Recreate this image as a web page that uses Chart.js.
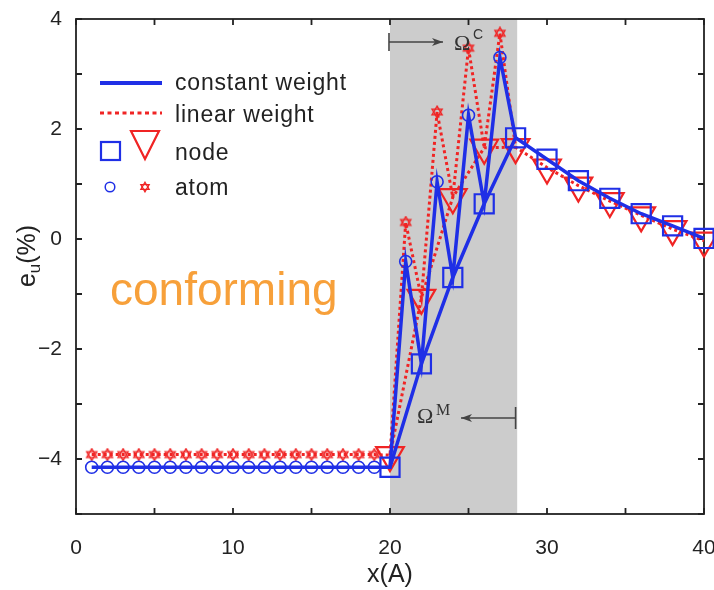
<!DOCTYPE html>
<html><head><meta charset="utf-8">
<script src="https://cdn.jsdelivr.net/npm/chart.js@4.4.1/dist/chart.umd.min.js"></script>
<style>html,body{margin:0;padding:0;background:#fff;}canvas{display:block;}</style>
</head><body>
<canvas id="c" width="714" height="590"></canvas>
<script>
// ---------- data ----------
const atomXLeft = [1,2,3,4,5,6,7,8,9,10,11,12,13,14,15,16,17,18,19];
const constAtomLeft = [-4.15,-4.15,-4.15,-4.15,-4.15,-4.15,-4.15,-4.15,-4.15,-4.15,-4.15,-4.15,-4.15,-4.15,-4.15,-4.15,-4.15,-4.15,-4.15];
const linearAtomLeft = [-3.92,-3.92,-3.92,-3.92,-3.92,-3.92,-3.92,-3.92,-3.92,-3.92,-3.92,-3.92,-3.92,-3.92,-3.92,-3.92,-3.92,-3.92,-3.92];
const atomXHandshake = [21, 23, 25, 27];
const constAtomHandshake = [-0.41, 1.04, 2.25, 3.30];
const linearAtomHandshake = [0.30, 2.31, 3.47, 3.74];
const nodeX = [20, 22, 24, 26, 28, 30, 32, 34, 36, 38, 40];
const constNode = [-4.15, -2.27, -0.70, 0.64, 1.84, 1.45, 1.06, 0.74, 0.46, 0.24, 0.01];
const linearNode = [-3.93, -1.07, 0.76, 1.66, 1.67, 1.30, 0.97, 0.69, 0.43, 0.18, -0.03];
const handshakeRegion = [20, 28.1];
const xTickLabelValues = [0, 10, 20, 30, 40];
const yTickLabelValues = [-4, -2, 0, 2, 4];
const legendLabels = ['constant weight', 'linear weight', 'node', 'atom'];
const regionText = 'conforming';

const BLUE = '#1f2fe6', RED = '#f02424', INK = '#222222';

function pts(xs, ys) { return xs.map((x, i) => ({x: x, y: ys[i]})); }
function fullPath(ax1, ay1, ax2, ay2, nx, ny) {
  const all = pts(ax1, ay1).concat(pts(ax2, ay2), pts(nx, ny));
  all.sort((a, b) => a.x - b.x);
  return all;
}
function handshakeNodes(ys) { return pts(nodeX, ys).filter(p => p.x <= handshakeRegion[1]); }
function fmt(v) { return v < 0 ? '\u2212' + Math.abs(v) : String(v); }

function makeStar(size, lw) {
  const c = document.createElement('canvas');
  c.width = size; c.height = size;
  const g = c.getContext('2d');
  g.strokeStyle = RED; g.lineWidth = lw;
  const cx = size / 2, cy = size / 2, r = size / 2 - 1.2;
  for (let k = 0; k < 2; k++) {
    g.beginPath();
    for (let i = 0; i < 3; i++) {
      const a = -Math.PI / 2 + k * Math.PI + i * 2 * Math.PI / 3;
      const px = cx + r * Math.cos(a), py = cy + r * Math.sin(a);
      if (i === 0) g.moveTo(px, py); else g.lineTo(px, py);
    }
    g.closePath(); g.stroke();
  }
  return c;
}
const starImg = makeStar(14, 1.4);
const starImgSmall = makeStar(12, 1.3);

const lineBase = {showLine: true, pointRadius: 0, fill: false, clip: false, tension: 0};
const pointBase = {showLine: false, clip: false, backgroundColor: 'rgba(0,0,0,0)', pointBackgroundColor: 'rgba(0,0,0,0)'};

const datasets = [
  Object.assign({label: 'constant path', data: fullPath(atomXLeft, constAtomLeft, atomXHandshake, constAtomHandshake, nodeX, constNode),
    borderColor: BLUE, borderWidth: 3.5}, lineBase),
  Object.assign({label: 'constant nodes line', data: handshakeNodes(constNode), borderColor: BLUE, borderWidth: 3.5}, lineBase),
  Object.assign({label: 'constant atoms', data: pts(atomXLeft, constAtomLeft).concat(pts(atomXHandshake, constAtomHandshake)),
    borderColor: BLUE, pointBorderColor: BLUE, pointStyle: 'circle', pointRadius: 6, pointBorderWidth: 1.6}, pointBase),
  Object.assign({label: 'constant nodes', data: pts(nodeX, constNode),
    borderColor: BLUE, pointBorderColor: BLUE, pointStyle: 'rect', pointRadius: 13.5, pointBorderWidth: 2.2}, pointBase),
  Object.assign({label: 'linear path', data: fullPath(atomXLeft, linearAtomLeft, atomXHandshake, linearAtomHandshake, nodeX, linearNode),
    borderColor: RED, borderWidth: 3, borderDash: [3, 3]}, lineBase),
  Object.assign({label: 'linear nodes line', data: handshakeNodes(linearNode), borderColor: RED, borderWidth: 3, borderDash: [3, 3]}, lineBase),
  Object.assign({label: 'linear atoms', data: pts(atomXLeft, linearAtomLeft).concat(pts(atomXHandshake, linearAtomHandshake)),
    borderColor: RED, pointBorderColor: RED, pointStyle: starImg, pointRadius: 7}, pointBase),
  Object.assign({label: 'linear nodes', data: pts(nodeX, linearNode),
    borderColor: RED, pointBorderColor: RED, pointStyle: 'triangle', pointRotation: 180, pointRadius: 16, pointBorderWidth: 2.2}, pointBase)
];

const framePlugin = {
  id: 'frame',
  beforeDatasetsDraw(chart) {
    const {ctx, chartArea: a, scales: {x, y}} = chart;
    ctx.save();
    const x0 = x.getPixelForValue(handshakeRegion[0]), x1 = x.getPixelForValue(handshakeRegion[1]);
    ctx.fillStyle = '#cccccc';
    ctx.fillRect(x0, a.top, x1 - x0, a.bottom - a.top);
    ctx.strokeStyle = INK; ctx.lineWidth = 1.8;
    ctx.strokeRect(a.left, a.top, a.right - a.left, a.bottom - a.top);
    ctx.beginPath();
    x.ticks.forEach(t => {
      const p = x.getPixelForValue(t.value);
      ctx.moveTo(p, a.bottom); ctx.lineTo(p, a.bottom - 6);
      ctx.moveTo(p, a.top); ctx.lineTo(p, a.top + 6);
    });
    y.ticks.forEach(t => {
      const p = y.getPixelForValue(t.value);
      ctx.moveTo(a.left, p); ctx.lineTo(a.left + 6, p);
      ctx.moveTo(a.right, p); ctx.lineTo(a.right - 6, p);
    });
    ctx.stroke();
    ctx.restore();
  }
};

function arrow(ctx, xBar, xTip, yy, barHalf) {
  ctx.beginPath();
  ctx.moveTo(xBar, yy - barHalf); ctx.lineTo(xBar, yy + barHalf);
  ctx.moveTo(xBar, yy); ctx.lineTo(xTip, yy);
  ctx.stroke();
  const dir = xTip > xBar ? 1 : -1;
  ctx.beginPath();
  ctx.moveTo(xTip, yy);
  ctx.lineTo(xTip - dir * 11, yy - 4);
  ctx.lineTo(xTip - dir * 8, yy);
  ctx.lineTo(xTip - dir * 11, yy + 4);
  ctx.closePath(); ctx.fill();
}

const annotPlugin = {
  id: 'annot',
  afterDatasetsDraw(chart) {
    const {ctx, chartArea: a, scales: {x, y}} = chart;
    ctx.save();
    // legend
    const lx = 100, tx = 175;
    ctx.lineWidth = 4; ctx.strokeStyle = BLUE;
    ctx.beginPath(); ctx.moveTo(lx, 83); ctx.lineTo(lx + 62, 83); ctx.stroke();
    ctx.lineWidth = 3; ctx.strokeStyle = RED; ctx.setLineDash([4, 3.5]);
    ctx.beginPath(); ctx.moveTo(lx, 113); ctx.lineTo(lx + 62, 113); ctx.stroke();
    ctx.setLineDash([]);
    ctx.lineWidth = 2.2; ctx.strokeStyle = BLUE;
    ctx.strokeRect(lx + 1, 142, 19, 18);
    ctx.strokeStyle = RED;
    ctx.beginPath(); ctx.moveTo(lx + 31, 131); ctx.lineTo(lx + 59, 131); ctx.lineTo(lx + 45, 159); ctx.closePath(); ctx.stroke();
    ctx.lineWidth = 1.5; ctx.strokeStyle = BLUE;
    ctx.beginPath(); ctx.arc(lx + 10, 187, 4.8, 0, Math.PI * 2); ctx.stroke();
    ctx.drawImage(starImgSmall, lx + 39, 181);
    ctx.fillStyle = INK;
    ctx.font = '23px "Liberation Sans", Arial, sans-serif';
    ctx.textBaseline = 'alphabetic'; ctx.textAlign = 'left';
    try { ctx.letterSpacing = '0.8px'; } catch (e) {}
    ctx.fillText(legendLabels[0], tx, 90);
    ctx.fillText(legendLabels[1], tx, 122);
    ctx.fillText(legendLabels[2], tx, 160);
    ctx.fillText(legendLabels[3], tx, 195);
    try { ctx.letterSpacing = '0px'; } catch (e) {}
    // conforming
    ctx.fillStyle = '#f7a03a';
    ctx.font = '46px "Liberation Sans", Arial, sans-serif';
    ctx.fillText(regionText, 110, 305);
    // Omega C
    ctx.strokeStyle = '#444'; ctx.fillStyle = '#444'; ctx.lineWidth = 1.6;
    const xb = x.getPixelForValue(handshakeRegion[0]);
    arrow(ctx, xb - 1, 443, 42, 9);
    ctx.fillStyle = '#333';
    ctx.font = '22px "Liberation Serif", "DejaVu Serif", serif';
    ctx.fillText('\u03A9', 454, 50);
    ctx.font = '14px "Liberation Sans", sans-serif';
    ctx.fillText('C', 473, 39);
    // Omega M
    ctx.strokeStyle = '#444'; ctx.fillStyle = '#444';
    const xm = x.getPixelForValue(28);
    arrow(ctx, xm, 461, 418, 11);
    ctx.fillStyle = '#333';
    ctx.font = '22px "Liberation Serif", "DejaVu Serif", serif';
    ctx.fillText('\u03A9', 417, 423);
    ctx.font = '16px "Liberation Serif", "DejaVu Serif", serif';
    ctx.fillText('M', 436, 415);
    // y axis title e_u(%)
    ctx.fillStyle = INK;
    ctx.translate(35, 256);
    ctx.rotate(-Math.PI / 2);
    const big = '25px "Liberation Sans", Arial, sans-serif', small = '17px "Liberation Sans", Arial, sans-serif';
    ctx.font = big; const we = ctx.measureText('e').width;
    const wp = ctx.measureText('(%)').width;
    ctx.font = small; const wu = ctx.measureText('u').width;
    let cx = -(we + wu + wp) / 2;
    ctx.font = big; ctx.fillText('e', cx, 0); cx += we;
    ctx.font = small; ctx.fillText('u', cx, 5); cx += wu;
    ctx.font = big; ctx.fillText('(%)', cx, 0);
    ctx.restore();
  }
};

new Chart(document.getElementById('c'), {
  type: 'scatter',
  data: {datasets: datasets},
  options: {
    responsive: false, animation: false, devicePixelRatio: 1, events: [],
    layout: {autoPadding: false, padding: {left: 0, right: 10, top: 19, bottom: 0}},
    plugins: {legend: {display: false}, tooltip: {enabled: false}, title: {display: false}},
    scales: {
      x: {
        type: 'linear', min: 0, max: 40,
        grid: {display: false, drawTicks: false}, border: {display: false},
        ticks: {stepSize: 5, autoSkip: false, maxRotation: 0, minRotation: 0, padding: 22, color: INK,
          font: {family: '"Liberation Sans", Arial, sans-serif', size: 21},
          callback: v => xTickLabelValues.includes(v) ? fmt(v) : ''},
        title: {display: true, text: 'x(A)', color: INK, padding: {top: 0, bottom: 0},
          font: {family: '"Liberation Sans", Arial, sans-serif', size: 25}},
        afterFit: s => { s.height = 76; s.paddingLeft = 0; s.paddingRight = 0; }
      },
      y: {
        type: 'linear', min: -5, max: 4,
        grid: {display: false, drawTicks: false}, border: {display: false},
        ticks: {stepSize: 1, autoSkip: false, padding: 14, color: INK,
          font: {family: '"Liberation Sans", Arial, sans-serif', size: 21},
          callback: v => yTickLabelValues.includes(v) ? fmt(v) : ''},
        afterFit: s => { s.width = 76; s.paddingTop = 0; s.paddingBottom = 0; }
      }
    }
  },
  plugins: [framePlugin, annotPlugin]
});
</script>
</body></html>
